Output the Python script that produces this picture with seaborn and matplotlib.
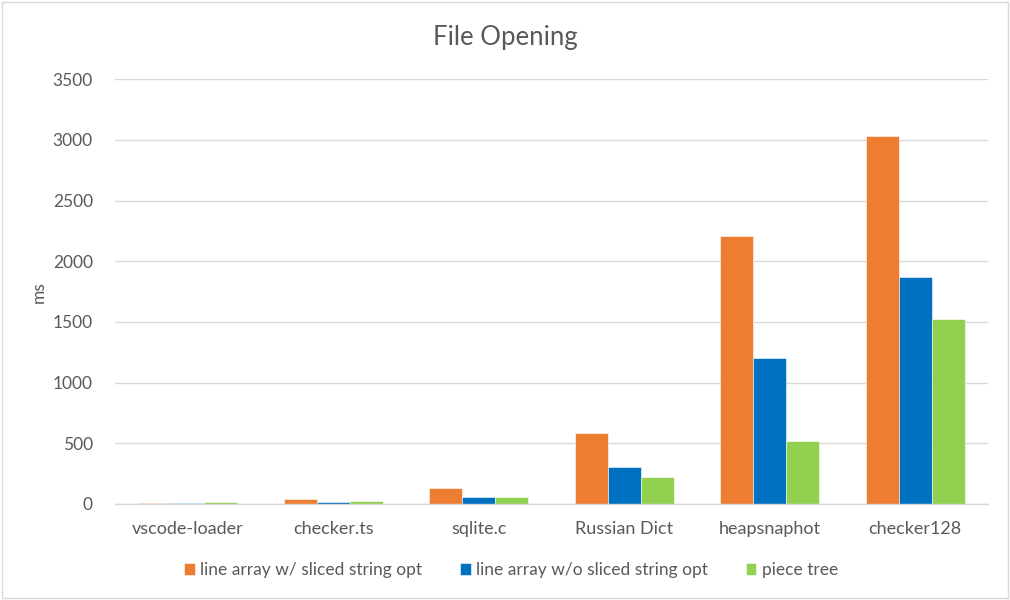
import pandas as pd
import matplotlib.pyplot as plt
import seaborn as sns
from matplotlib.patches import Rectangle

# ----------------------------------------------------
# DATA
# ----------------------------------------------------

files = ["vscode-loader", "checker.ts", "sqlite.c", "Russian Dict", "heapsnaphot", "checker128"]
series = ["line array w/ sliced string opt", "line array w/o sliced string opt", "piece tree"]
with_opt = [8, 38, 130, 582, 2207, 3028]
without_opt = [10, 20, 58, 307, 1205, 1873]
piece_tree = [18, 28, 58, 220, 520, 1524]
colors = ["#ED7D31", "#0070C0", "#92D050"]
yticks = [0, 500, 1000, 1500, 2000, 2500, 3000, 3500]

df = pd.DataFrame({
    "file": files * 3,
    "ms": with_opt + without_opt + piece_tree,
    "series": [series[0]] * 6 + [series[1]] * 6 + [series[2]] * 6,
})

# ----------------------------------------------------
# PLOT
# ----------------------------------------------------

sns.set_style("white")
plt.rcParams["font.family"] = ["Lato", "DejaVu Sans"]

fig = plt.figure(figsize=(10.1, 6.0), dpi=100)
ax = fig.add_axes([0.114, 0.16, 0.864, 0.708])

sns.barplot(data=df, x="file", y="ms", hue="series", palette=colors, saturation=1,
            width=0.68, edgecolor="#FFFFFF", linewidth=0.4, ax=ax)

ax.set_ylim(0, 3500)
ax.set_yticks(yticks)
ax.yaxis.grid(True, color="#D9D9D9", linewidth=1)
ax.set_axisbelow(True)
for side in ["top", "right", "left"]:
    ax.spines[side].set_visible(False)
ax.spines["bottom"].set_color("#D9D9D9")
ax.spines["bottom"].set_linewidth(1)
ax.tick_params(axis="both", length=0, labelcolor="#595959")
ax.tick_params(axis="x", pad=12, labelsize=13)
ax.tick_params(axis="y", pad=16, labelsize=12.5)
ax.set_xlabel("")
ax.set_ylabel("ms", fontsize=12.5, color="#595959", labelpad=4)

fig.text(0.5, 0.937, "File Opening", ha="center", va="center", fontsize=18.5, color="#595959")

handles, labels = ax.get_legend_handles_labels()
ax.legend(handles, labels, loc="center", bbox_to_anchor=(0.506, 0.05), bbox_transform=fig.transFigure,
          ncol=3, frameon=False, fontsize=12.5, labelcolor="#595959",
          handlelength=0.6, handleheight=0.7, handletextpad=0.3, columnspacing=2.2)

fig.patches.append(Rectangle((0.002, 0.003), 0.996, 0.994, transform=fig.transFigure,
                             fill=False, edgecolor="#D9D9D9", linewidth=1))

fig.savefig("out.png", dpi=100)
plt.close(fig)
